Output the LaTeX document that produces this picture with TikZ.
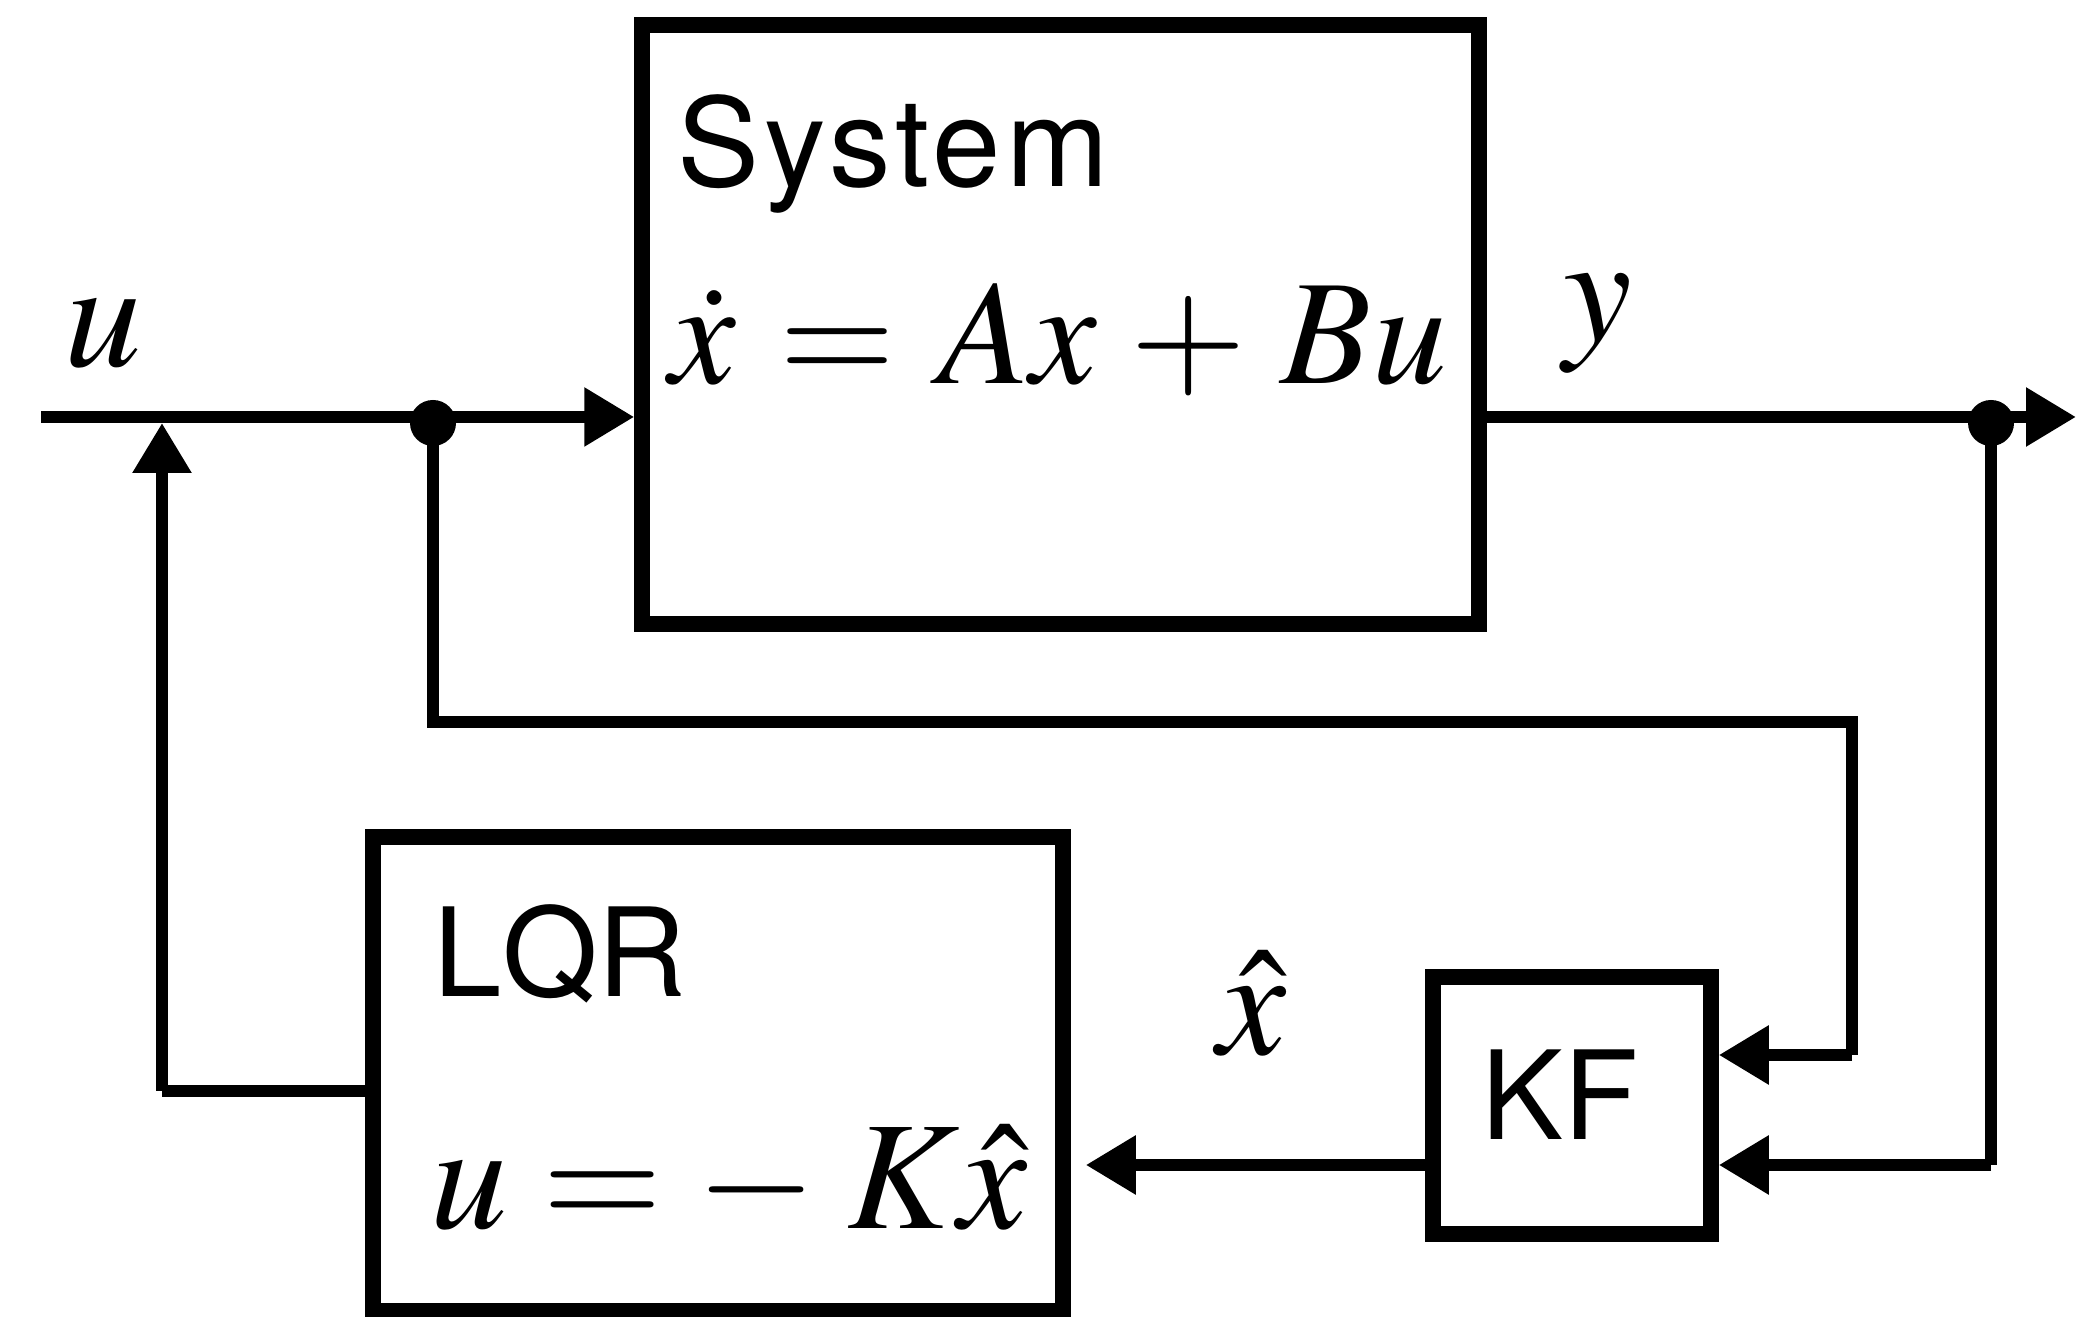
\documentclass[tikz,border=0pt]{standalone}
\usepackage[no-math]{fontspec}
\usepackage{mathptmx}
\usepackage{tikz}
\usetikzlibrary{arrows.meta,calc}
\newfontfamily\blockfont{TeX Gyre Heros}

\tikzset{
  block/.style={draw,line width=0.155cm,inner sep=0pt},
  wire/.style={line width=0.12cm},
  flow/.style={wire,-{Triangle[length=0.5cm,width=0.56cm]}},
  blocktext/.style={anchor=base west,inner sep=0pt,font=\blockfont\fontsize{35}{40}\selectfont},
  mathtext/.style={inner sep=0pt,font=\fontsize{44}{50}\selectfont},
  junction/.style={circle,fill,inner sep=0pt,minimum size=0.46cm}
}

\begin{document}
\begin{tikzpicture}
    \useasboundingbox (0,0) rectangle (20.76,13.17);
    \node[block,minimum width=8.37cm,minimum height=5.99cm] (sys) at (10.605,9.925) {};
    \node[blocktext] (systitle) at (6.77,11.30) {\addfontfeatures{LetterSpace=4}System};
    \node[mathtext,font=\fontsize{42.5}{50}\selectfont,anchor=base west] (syseq) at (6.69,9.33) {$\thickmuskip=5.2mu\medmuskip=4.1mu \dot{x} = Ax + Bu$};
    \node[block,minimum width=6.90cm,minimum height=4.74cm] (lqr) at (7.18,2.43) {};
    \node[blocktext] (lqrtitle) at (4.33,3.20) {LQR};
    \node[mathtext,anchor=base west] (lqreq) at (4.30,0.88) {$u = -\mkern3.5mu K\hat{x}$};
    \node[block,minimum width=2.78cm,minimum height=2.57cm] (kf) at (15.72,2.115) {};
    \node[blocktext,anchor=center] (kftitle) at (15.60,2.22) {KF};
    \coordinate (uin) at (0.41,9.00);
    \coordinate (j1) at (4.33,9.00);
    \coordinate (yout) at (20.76,9.00);
    \coordinate (j2) at (19.91,9.00);
    \coordinate (c1) at (4.33,5.95);
    \coordinate (c2) at (18.52,5.95);
    \coordinate (c3) at (18.52,2.62);
    \coordinate (c4) at (19.91,1.52);
    \coordinate (c5) at (1.62,2.26);
    \draw[flow] (uin) -- (j1 -| sys.west);
    \draw[flow] (sys.east |- j1) -- (yout);
    \draw[wire] (j1) -- (c1) -- (c2) -- (c3);
    \draw[flow] (c3) -- (c3 -| kf.east);
    \draw[wire] (j2) -- (c4);
    \draw[flow] (c4) -- (c4 -| kf.east);
    \draw[flow,shorten >=0.15cm] (kf.west |- c4) -- (lqr.east |- c4);
    \draw[wire] (lqr.west |- c5) -- (c5);
    \draw[flow] (c5) -- ($(c5 |- uin)+(0,-0.06)$);
    \node[junction] (dot1) at ($(j1)+(0,-0.06)$) {};
    \node[junction] (dot2) at ($(j2)+(0,-0.06)$) {};
    \node[mathtext] (ulabel) at (1.03,9.83) {$u$};
    \node[mathtext] (ylabel) at (15.98,9.93) {$y$};
    \node[mathtext] (xhatlabel) at (12.52,3.13) {$\hat{x}$};
\end{tikzpicture}
\end{document}
